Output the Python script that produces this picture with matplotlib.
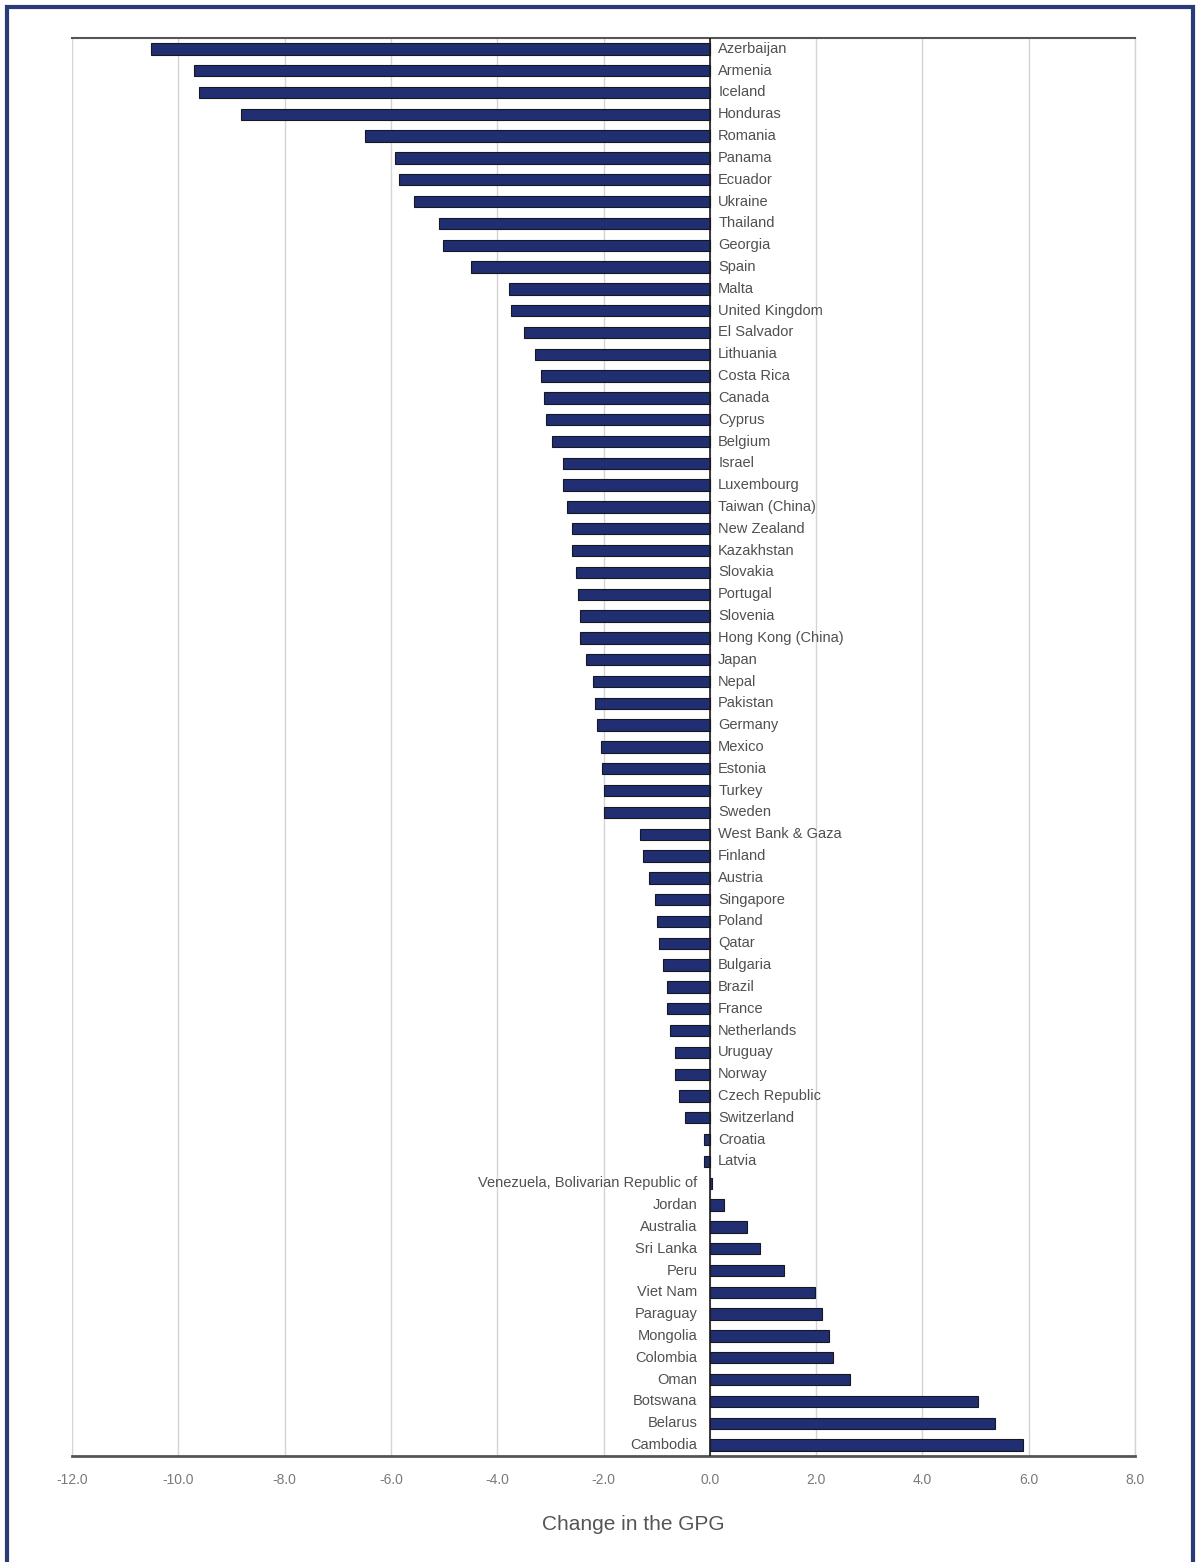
import matplotlib.pyplot as plt
import matplotlib.patches as mpatches
from matplotlib import font_manager

countries = ['Azerbaijan', 'Armenia', 'Iceland', 'Honduras', 'Romania', 'Panama',
             'Ecuador', 'Ukraine', 'Thailand', 'Georgia', 'Spain', 'Malta',
             'United Kingdom', 'El Salvador', 'Lithuania', 'Costa Rica', 'Canada',
             'Cyprus', 'Belgium', 'Israel', 'Luxembourg', 'Taiwan (China)',
             'New Zealand', 'Kazakhstan', 'Slovakia', 'Portugal', 'Slovenia',
             'Hong Kong (China)', 'Japan', 'Nepal', 'Pakistan', 'Germany', 'Mexico',
             'Estonia', 'Turkey', 'Sweden', 'West Bank & Gaza', 'Finland', 'Austria',
             'Singapore', 'Poland', 'Qatar', 'Bulgaria', 'Brazil', 'France',
             'Netherlands', 'Uruguay', 'Norway', 'Czech Republic', 'Switzerland',
             'Croatia', 'Latvia', 'Venezuela, Bolivarian Republic of', 'Jordan',
             'Australia', 'Sri Lanka', 'Peru', 'Viet Nam', 'Paraguay', 'Mongolia',
             'Colombia', 'Oman', 'Botswana', 'Belarus', 'Cambodia']

change = [-10.51, -9.70, -9.62, -8.82, -6.49, -5.92,
          -5.85, -5.57, -5.09, -5.02, -4.49, -3.78,
          -3.74, -3.50, -3.29, -3.18, -3.12,
          -3.08, -2.97, -2.76, -2.76, -2.69,
          -2.59, -2.59, -2.52, -2.48, -2.44,
          -2.44, -2.33, -2.20, -2.16, -2.12, -2.05,
          -2.03, -1.99, -1.99, -1.31, -1.26, -1.14,
          -1.03, -1.00, -0.96, -0.88, -0.81, -0.81,
          -0.75, -0.66, -0.66, -0.58, -0.47,
          -0.11, -0.11, 0.04, 0.27,
          0.70, 0.94, 1.40, 1.98, 2.11, 2.24,
          2.32, 2.64, 5.05, 5.37, 5.90]

xticks = [-12, -10, -8, -6, -4, -2, 0, 2, 4, 6, 8]

names = [f.name for f in font_manager.fontManager.ttflist]
lab_font = 'Liberation Sans Narrow' if 'Liberation Sans Narrow' in names else 'Liberation Sans'

fig = plt.figure(figsize=(11.97, 15.62), dpi=100)
ax = fig.add_axes([0.0602, 0.0679, 0.8880, 0.9078])

y = list(range(len(countries)))
ax.barh(y, change, height=0.52, color='#212f72', edgecolor='#15181f', linewidth=0.8, zorder=3)

for yi, name, v in zip(y, countries, change):
    if v < 0:
        ax.annotate(name, (0, yi), xytext=(6, 0), textcoords='offset points',
                    ha='left', va='center', fontsize=10.5, color='#505050', family=lab_font)
    else:
        ax.annotate(name, (0, yi), xytext=(-9, 0), textcoords='offset points',
                    ha='right', va='center', fontsize=10.5, color='#505050', family=lab_font)

ax.set_xlim(-12, 8)
ax.set_ylim(len(countries) - 0.5, -0.5)
ax.set_xticks(xticks)
ax.set_xticklabels([f'{t:.1f}' for t in xticks], family=lab_font, fontsize=10, color='#7a7a7a')
ax.set_yticks([])
ax.tick_params(axis='x', length=0, pad=12)
ax.grid(axis='x', color='#d4d4d4', linewidth=1, zorder=0)
ax.axvline(8, color='#d4d4d4', linewidth=1, zorder=0, clip_on=False)
ax.axvline(0, color='#1a1a1a', linewidth=1.2, zorder=4)

for s in ['left', 'right']:
    ax.spines[s].set_visible(False)
ax.spines['top'].set_color('#555555')
ax.spines['top'].set_linewidth(1.5)
ax.spines['bottom'].set_color('#555555')
ax.spines['bottom'].set_linewidth(2)

ax.set_xlabel('Change in the GPG', fontsize=15, color='#555555', family=lab_font)
ax.xaxis.set_label_coords(0.528, -0.042)

border = mpatches.Rectangle((7 / 1197, -0.05), 1186 / 1197, 1.05 - 7 / 1562,
                            transform=fig.transFigure, fill=False,
                            edgecolor='#2b3a78', linewidth=3, clip_on=False)
fig.patches.append(border)

fig.savefig('out.png', dpi=100)
